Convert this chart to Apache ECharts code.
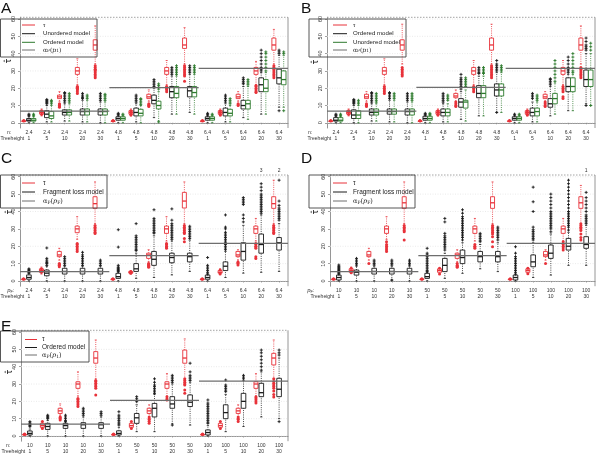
<!DOCTYPE html>
<html><head><meta charset="utf-8">
<script src="https://cdn.jsdelivr.net/npm/echarts@6/dist/echarts.min.js"></script>
<style>html,body{margin:0;padding:0;background:#fff}#c{width:600px;height:456px}</style>
</head><body><div id="c"></div>
<script>
// ---------------- DATA ----------------
const yTicks = [0, 10, 20, 30, 40, 50, 60];
const treeHeights = [1, 5, 10, 20, 30, 1, 5, 10, 20, 30, 1, 5, 10, 20, 30];
const nAB = ['2.4','2.4','2.4','2.4','2.4','4.8','4.8','4.8','4.8','4.8','6.4','6.4','6.4','6.4','6.4'];
const pFC = ['2.4','2.4','2.4','2.4','2.4','4.8','4.8','4.8','4.8','4.8','6.4','6.4','6.4','6.4','6.4'];
const pFD = ['10','10','10','10','10','50','50','50','50','50','100','100','100','100','100'];
const nE  = ['10','10','10','10','10','50','50','50','50','50','100','100','100','100','100'];

// boxes: [whiskerLow, Q1, median, Q3, whiskerHigh]
// ---- Panel A ----
const A_tau = [[0.8,0.9,1,1.1,1.2],[4,5,6,7,8],[12.5,14,15,16,18],[22,28,30,32,37],[34,42,45,48,56],
  [0.8,0.9,1,1.1,1.2],[4,5,6,7,8],[12.5,14,15,16.5,19],[22,28,30,32,36],[34,43,45,49,55],
  [0.8,0.9,1,1.1,1.2],[4,5,6,7,8],[12.5,14,15,16.5,18],[22,28,30,32,35.5],[34,42,45,49,54]];
const A_tauOut = [[1,1.3],[5,7],[9,9.5,10,10.5,11],[17,18,19,19.5,20,20.5,21],[26,27,28,29,30,30.5,31,32,33],
  [1,1.3],[4.5,5,7],[9.5,10,10.5,11],[18,19,19.5,20,20.5,21],[24,27,28,29,30,31,32,33],
  [1,1.3],[4.5,5,7],[10,10.5,11],[17.5,18,19,20,21,21.5],[26,27,28,29,30,31,32,33]];
const A_unord = [[0,1,1.5,2.5,3.5],[0.5,3,5,7,10],[1,4.5,6,7.5,11],[0.5,4.5,6.5,8,13],[0,4.5,6.5,8,12],
  [0,1.5,2.5,3.5,4],[0.5,4,6,8.5,11],[3,11,13,16,20],[5,14.5,18,21,27],[6,15,18.5,21,28],
  [0,1.5,2.5,3.5,4],[0.5,4,6,8.5,11],[3,8,10,13,21],[5,18,22,26,29],[9,22.5,26,31,39]];
const A_unordOut = [[4,4.5,5],[11,11.5,12,12.5,13,13.5],[12,13,14,15,16,17,17.5],[14,14.5,15,16,17],[13,14,15,16,17],
  [4.5,5,5.5],[12,13,14,15,16],[21,22,23,24,25],[28,29,30,31,32],[29,30,31,32,33],
  [4.5,5,5.5],[12,13,14,15,16],[22.5,23,24,25,26],[30,31,32,34,36,38,40,42],[7,40,41,42]];
const A_ord = [[0,1,1.5,2.5,3.5],[0.5,2.5,4,6.5,10],[1,4.5,6,7.5,11],[0.5,4.5,6.5,8,13],[0,4.5,6.5,8,12],
  [0,1.5,2.5,3.5,4],[0,4,5.5,7.8,10],[1,8,10,12.5,18],[5,14.5,17,21,27],[5,15,17.5,21,28],
  [0,1.5,2.5,3.5,4],[0.5,4,5.5,7.8,10],[2,8,11,13,21],[5,18,20,25,29],[9,22,25,30,39]];
const A_ordOut = [[4,4.5,5],[11,12,12.5,13],[12,13,14,15,16,17],[14,15,16],[13,14,15,16,16.5],
  [4.5,5],[10.5,11.5,12.5,13.5,14],[0.5,19.5,20.5,21.5,22.5],[28,29,30,31,32,33],[29,30,31,32,33],
  [4.5,5],[11,12,13,14],[22,23,24,25],[30,32,34,36,38,40,41],[7,40,41]];
const A_alpha = [6.8, 20.3, 31.5];

// ---- Panel B ----
const B_tau = [[0.8,0.9,1,1.1,1.2],[4,5,6,7,8],[12.5,14,15,16.5,18],[22,28,30,32,37],[34,42,45,48,57],
  [0.8,0.9,1,1.1,1.2],[4,5,6,7,8],[12.5,14.5,15.5,17,19],[22,28,30,32,36],[34,42,45,49,57],
  [0.8,0.9,1,1.1,1.2],[4,5,6,7,8],[12.5,14,15,16.5,18],[22,28,30,32,36],[34,42,45,49,56]];
const B_tauOut = [[1,1.3],[5,7],[9.5,10,10.5,11],[17,18,19,20,21],[27,28,29,30,31,32],
  [1,1.3],[4.5,5,7],[9.5,10,11,12],[18,19,20,21],[26,27,28,29,30,31,32,33],
  [1,1.3],[4.5,5,7],[9.5,10,11,12],[14,15,18,19,20,21],[26,27,28,29,30,31,32]];
const B_ordm = [[0,1,1.5,3,3.8],[0,2.5,4.5,7.5,10],[1,4.5,6,8,11],[0.5,5,6.5,8,13],[0,4.5,6.5,8,12],
  [0,1.5,2.5,3.8,4],[0.5,4,6,8,11],[2,9,12,14,18],[4,14.5,17,21.5,27],[6,15.5,19,22.5,29],
  [0,1.5,2.5,3.5,4],[0.5,4,6,8.5,12],[4,9,11,14,21],[7,18,21,26,28],[11,21,25,30.5,40]];
const B_ordmOut = [[4,4.5,5],[11,11.5,12,12.5,13,13.5],[12,13,14,15,16,17,17.5],[14,15,16,17,17.5],[13,14,15,16,17],
  [4.5,5,5.5],[12,13,14,15,16,17],[19.5,21,22,23,24,25,26,28],[28.5,29,30,31,32],[6,30,31,32,33,34,36],
  [4.5,5],[14,15,16,17],[22,23,24,25,25.5],[29,30,31,32,34,36,38],[10,42,43,44,45,47,49]];
const B_unord = [[0,1,1.5,3,3.8],[0,2.5,4.5,7,10],[1,4.5,6,8,11],[0.5,5,6.5,8,13],[0,4.5,6.5,8,12],
  [0,1.5,2.5,3.8,4],[0.5,4,6,8,11],[1,8.5,12,13,19],[4,14.5,17,21.5,27],[6,15.5,19,22.5,29],
  [0,1.5,2.5,3.5,4],[0.5,4,6.5,8.5,12],[5,11,14,17,23],[7,18,21,26,28],[10,21,25,30.5,40]];
const B_unordOut = [[4,4.5,5],[11,12,13],[12,13,14,15,16,17],[14,15,16,17],[13,14,15,16,17],
  [4.5,5,5.5],[13,14,15,16],[21,22,23,24,25,26],[28.5,29,30,31,32],[30,31,32,33],
  [4.5,5],[13,14,15,16],[24,26,28,30,32,34,36],[29,30,32,34,36,38,40],[10,42,44,46]];
const B_alpha = [6.8, 20.5, 31.5];

// ---- Panel C ----
const C_tau = [[0.8,0.9,1,1.1,1.2],[4,5,6,7,8],[12,14,15,17,18.8],[24,27.8,30,31.6,37],[33,41.8,44.5,48.5,57],
  [0.8,0.9,1,1.1,1.2],[4,4.5,5,5.5,6],[11,13,15,16,18],[23,27.4,30,31.6,37],[33,42,46,51,57],
  [0.8,0.9,1,1.1,1.2],[4,4.5,5,6,7],[12,14,15,17,18],[23,27.4,30,31.6,36],[33,41.8,44.5,48.5,58]];
const C_tauOut = [[1,1.3],[5,7],[8.2,9,9.5,10],[16.9,18,19,20,21,21.6],[27.4,28,29,30,31,32],
  [1,1.3],[4.5,5.5],[7.9,8.5,9,9.5,10],[18.8,19.5,20,21,21.6],[22.6,24.5,27.4,28,29,30,31,32],
  [1,1.3],[4,6.3],[9.2,10,10.5,11],[13,14,18.8,19.5,20,21,21.6],[27.4,28,29,30,31,32]];
const C_frag = [[0,1,2,3.5,4.5],[0,3,4.5,6.3,8.5],[0,4,5.5,7.3,8.5],[0,4,5.5,7.3,8.5],[0,4,5.5,7.3,8.5],
  [0,1.5,2.5,4.4,5],[1.5,5.5,7,10,16],[2,9,12.5,17,26],[3.5,10.5,13.5,16,23],[5.5,11,14,16,23.5],
  [0,1,2,3.4,4],[2,6,8.5,11,17],[4.5,12,17,22,32],[5,16,21,27,38],[5.5,17.8,22,25,33]];
const C_fragOut = [[4.5,5,5.5,6,6.5,7],[9,10,10.5,11,12,13,19],[9,10,11,12,13,14],[9,10,11,12,13,14,15,16.5],[9,10,11,12],
  [5.5,6,6.5,7,7.5,8,9,19.5,29.5],[17.5,18,19,20,21,22,23,24,25,26,33],[27.5,28,29,30,31,32,33,34,35,36,41],[24,25,26,27,28,29,30,31,32,33,35,41.5],[24.5,25.5,26.5,27.5,28.5,29.5,30.5,31.5],
  [4,5,6,7,8,9,13.5],[18,19,20,21,22,23,24,25,26,27,28,30,31,38],[34,36,38,44,45,46,47,48],[39,40,41,42,43,44,45,46,47,48,49,50,52,54,56],[35,36,37,38,39,40,41,42,43.5,46,58]];
const C_alpha = [5.4, 14.6, 21.6];
const C_offscale = [[13, '3'], [14, '2']];

// ---- Panel D ----
const D_tau = [[0.8,0.9,1,1.1,1.2],[4.5,5,6,7,8],[12,14,15,17,18.8],[24,27.4,30,31.6,37],[33,41.8,45,48.5,57],
  [0.8,0.9,1,1.1,1.2],[4,5,6,7,7.5],[11,13,15,16,18],[23,27.4,30,31.6,36],[33,41.8,45,48.5,57],
  [0.8,0.9,1,1.1,1.2],[4,5,6,7,7.5],[12,14,15,17,18],[23,27.4,30,31.6,36],[33,41.8,45,48.5,55]];
const D_tauOut = [[1,1.3],[4.8,7.3],[10],[16.9,18,19,20,21,22.6],[23.6,28.3,29,30,31,32],
  [1,1.3],[4,7.3],[7.9,8.5,9,10],[18.8,19.5,20,21],[19.7,22.6,25.5,27,28,29,30,31,32],
  [1,1.3],[4.2,7.3],[10],[17.8,19,20,21,22.6],[23.6,25,27,29,30,31,32,33]];
const D_frag = [[0,0.6,2,3.4,3.5],[0,3.4,5,6.3,8.5],[0,4,5.5,7.3,8.5],[0.5,4,5.5,7.3,8.5],[0,4,5.5,7.3,8.5],
  [0,1.5,2.5,4.4,5],[1.5,5.4,9,13,16],[4.4,10,13.5,17.8,22],[7,11,14,17,21],[5.4,11,14,17,22],
  [0,0.6,2,3.4,3.5],[2,8.2,11,15,22],[3.4,13,16,20.7,27],[9,17.8,20,24.5,28],[9,18.8,21,25.5,32]];
const D_fragOut = [[4,4.5,5,5.5,6,6.5,7,7.5,8,8.5,9.2],[9.2,10,11,12,13],[9.2,10,11,12],[0.5,9.2,10,11,12],[9.2,10,11,12],
  [5.4,6,7,8,9,10,11,12,13,14,15,16,18.8],[17.8,19,20,21,22,23,24,25,26,27.4,34,36],[23.6,25,26,27,28,29,30,31,32,33,34,35,36,37,39,41],[22.6,23.5,24.5,25.5,26.5,27.4],[23.6,25,26,27,28,29,30,31],
  [4,5,6,7,8,9,10,11,12,13,14,16,19.7],[23.6,24.5,25.5,26.5,27.5,28.5,29.5,31,40,45.6,54],[28.3,30,31,32,33,34,35,36,37,38,39,40,42,44,46,48,50],[29.3,31,32,33,34,35,36,37,38,39,40,42,44,46,48,50,52,54,56,58],[33,34,35,36,37,38,40,42,44,46,48,51]];
const D_alpha = [5.4, 14.6, 21.6];
const D_offscale = [[14, '1']];

// ---- Panel E ----
const E_tau = [[0.6,0.7,0.8,1,1.2],[4.4,5,6,7.3,8.3],[12,13,14.5,16,18.5],[23,27.5,30,31.3,37],[33,42,45,48.7,55.4],
  [0.6,0.7,0.8,1,1.2],[4.4,5,6,7.3,8.3],[11,13,14.5,16,18],[23,27.5,30,31.3,36],[33,42,45,49.6,56],
  [0.6,0.7,0.8,1,1.2],[4.4,5,6,7.3,8.3],[11,13,14.5,16,18],[23,27.5,30,31.3,36],[33,41,45,47.7,55.4]];
const E_tauOut = [[0.8,1.1],[4.4,8.3],[9.2,10,10.5,11],[17,18,19,20,21,21.7],[23.7,27.5,28.5,29.5,30.5,31.5,32],
  [0.8,1.1],[4.4,8.3],[7.3,8.5,9.5,10,11],[20.8,21.5,22.7],[24.6,26.5,29.4,30,31,32,33],
  [0.8,1.1],[4.4,8.3],[8.3,9.5,10,11],[19,20,21,22,22.7],[22.5,24,26,27.5,28.5,29.5,30.5,31.5,33]];
const E_ordm = [[0,0.6,1.5,2.9,4],[0,3.8,5.5,7.3,9],[0,4.4,6,7.3,8],[0,4.4,6.5,7.7,11],[0,4.4,6.5,7.7,11],
  [0,0.6,1.5,3,5],[2.5,7.3,10.5,13,18],[2.5,11,16,18.8,24],[7,16,18.5,22.7,30],[6.3,17,19.5,23.7,31],
  [0,0.6,2,3.5,6],[2.5,10,13.5,18,24],[5.5,16,20,24.6,32],[11,22.7,25,30.4,37],[10,22.7,27,33.3,45]];
const E_ordmOut = [[5.4,6,6.5,7,7.5,8.3],[10,10.5,11,11.5,12],[8.3,9,10,11,12],[12,13,14,15,16],[12,13,14],
  [6.3,7,8,9,10,11,12,14],[19.8,20.5,21.5,22.7],[24.6,25.5,26.5,27.5,28.5,29.4,31,33],[6.3,31,32,33,34,35],[32,33,34,35,37,42],
  [7.3,8,9,10,11,12,13,14,15,16,17,18,19,20.8],[25.6,26.5,27.5,28.5,29.4,32.3],[33,34,35],[38,40,42,44,46,48,49.6],[8.3,46.7,48,49.6]];
const E_alpha = [6.9, 20.6, 31.7];

// ---------------- STYLE / LAYOUT ----------------
const FONT = '"Liberation Sans", Arial, sans-serif';
const RED = '#e8323a', BLACK = '#1a1a1a', GREEN = '#2d7a2d', GRAYL = '#6e6e6e', AXC = '#8a8a8a';
const segRanges = [[0, 4], [5, 9], [10, 14]];

const panels = [
  { letter:'A', lx:1, ly:8.5, grid:{left:20, top:17.3, width:268, height:110.7}, xl:nAB, row:'n', rowX:7, titleX:9, titleY:61,
    lh:6.5, margin:1.2,
    tau:A_tau, tauOut:A_tauOut, tauOff:-0.29,
    models:[{box:A_unord, out:A_unordOut, color:BLACK, off:0},{box:A_ord, out:A_ordOut, color:GREEN, off:0.26}],
    alpha:A_alpha, off:null,
    legend:{x:0.5, y:19, w:96.5, h:38, lx1:22, lx2:35, tx:43, fs:6.1, ys:[25,33.7,42.3,50],
      items:[[RED,'τ'],[BLACK,'Unordered model'],[GREEN,'Ordered model'],[GRAYL,'alpha1']]} },
  { letter:'B', lx:301, ly:8.5, grid:{left:327, top:17.3, width:268, height:110.7}, xl:nAB, row:'n', rowX:308, titleX:316, titleY:62,
    lh:6.5, margin:1.2,
    tau:B_tau, tauOut:B_tauOut, tauOff:-0.29,
    models:[{box:B_ordm, out:B_ordmOut, color:BLACK, off:0},{box:B_unord, out:B_unordOut, color:GREEN, off:0.26}],
    alpha:B_alpha, off:null,
    legend:{x:309, y:19, w:97, h:38, lx1:333, lx2:347, tx:353, fs:6.1, ys:[25,33.7,42.3,50],
      items:[[RED,'τ'],[BLACK,'Ordered model'],[GREEN,'Unordered model'],[GRAYL,'alpha1']]} },
  { letter:'C', lx:1, ly:159, grid:{left:20, top:175, width:268, height:111.2}, xl:pFC, row:'pF', rowX:7, titleX:10, titleY:212,
    lh:5.8, margin:1.6,
    tau:C_tau, tauOut:C_tauOut, tauOff:-0.3,
    models:[{box:C_frag, out:C_fragOut, color:BLACK, off:0}],
    alpha:C_alpha, off:C_offscale,
    legend:{x:0.5, y:175, w:106.5, h:33, lx1:22, lx2:35, tx:43, fs:6.5, ys:[183,192,201],
      items:[[RED,'τ'],[BLACK,'Fragment loss model'],[GRAYL,'alphaF']]} },
  { letter:'D', lx:301, ly:159, grid:{left:330, top:175, width:265, height:111.2}, xl:pFD, row:'pF', rowX:307, titleX:316, titleY:212,
    lh:5.8, margin:1.6,
    tau:D_tau, tauOut:D_tauOut, tauOff:-0.3,
    models:[{box:D_frag, out:D_fragOut, color:BLACK, off:0}],
    alpha:D_alpha, off:D_offscale,
    legend:{x:309, y:175, w:106, h:33, lx1:333, lx2:347, tx:353, fs:6.5, ys:[183,192,201],
      items:[[RED,'τ'],[BLACK,'Fragment loss model'],[GRAYL,'alphaF']]} },
  { letter:'E', lx:1, ly:326.5, grid:{left:21, top:330.3, width:267, height:110.9}, xl:nE, row:'n', rowX:6, titleX:10, titleY:372,
    lh:5.8, margin:1.9,
    tau:E_tau, tauOut:E_tauOut, tauOff:-0.3,
    models:[{box:E_ordm, out:E_ordmOut, color:BLACK, off:0}],
    alpha:E_alpha, off:null,
    legend:{x:0.5, y:331, w:88.5, h:31, lx1:25, lx2:37, tx:42, fs:6.5, ys:[339.5,347.5,355],
      items:[[RED,'τ'],[BLACK,'Ordered model'],[GRAYL,'alpha1']]} }
];

// ---------------- BUILD ----------------
const grids = [], xAxes = [], yAxes = [], series = [], graphics = [];

function boxSeries(p, boxes, color, off, w) {
  return {
    type:'custom', xAxisIndex:p, yAxisIndex:p, z:3, silent:true,
    data: boxes.map((b, i) => [i, b[0], b[1], b[2], b[3], b[4]]),
    encode:{x:0, y:[1,2,3,4,5]},
    renderItem: (params, api) => {
      const i = api.value(0);
      const band = api.size([1, 0])[0];
      const x = api.coord([i, 0])[0] + off * band;
      const y = [1,2,3,4,5].map(k => api.coord([i, api.value(k)])[1]);
      const h = w / 2;
      const dash = {stroke:color, lineWidth:0.8, lineDash:[1, 1.2]};
      const solid = {stroke:color, lineWidth:0.8};
      return {type:'group', children:[
        {type:'line', shape:{x1:x, y1:y[0], x2:x, y2:y[1]}, style:dash},
        {type:'line', shape:{x1:x, y1:y[3], x2:x, y2:y[4]}, style:dash},
        {type:'line', shape:{x1:x-h*0.5, y1:y[0], x2:x+h*0.5, y2:y[0]}, style:solid},
        {type:'line', shape:{x1:x-h*0.5, y1:y[4], x2:x+h*0.5, y2:y[4]}, style:solid},
        {type:'rect', shape:{x:x-h, y:y[3], width:w, height:Math.max(y[1]-y[3], 0.6)}, style:{fill:'#ffffff', stroke:color, lineWidth:0.9}},
        {type:'line', shape:{x1:x-h, y1:y[2], x2:x+h, y2:y[2]}, style:{stroke:color, lineWidth:1.3}}
      ]};
    }
  };
}

function outSeries(p, lists, color, off, kind) {
  const data = [];
  lists.forEach((arr, i) => arr.forEach(v => data.push([i, v])));
  return {
    type:'custom', xAxisIndex:p, yAxisIndex:p, z:4, silent:true,
    data, encode:{x:0, y:1},
    renderItem: (params, api) => {
      const i = api.value(0), v = api.value(1);
      const band = api.size([1, 0])[0];
      const c = api.coord([i, v]);
      const x = c[0] + off * band, y = c[1];
      if (kind === 'dot') return {type:'circle', shape:{cx:x, cy:y, r:1.5}, style:{fill:color}};
      const s = 1.5;
      return {type:'group', children:[
        {type:'line', shape:{x1:x-s, y1:y, x2:x+s, y2:y}, style:{stroke:color, lineWidth:0.9}},
        {type:'line', shape:{x1:x, y1:y-s, x2:x, y2:y+s}, style:{stroke:color, lineWidth:0.9}}
      ]};
    }
  };
}

function gridLineSeries(p) {
  return {
    type:'custom', xAxisIndex:p, yAxisIndex:p, z:1, silent:true,
    data: yTicks.map(v => [0, v]), encode:{x:0, y:1},
    renderItem: (params, api) => {
      const cs = params.coordSys;
      const y = api.coord([0, api.value(1)])[1];
      return {type:'line', shape:{x1:cs.x, y1:y, x2:cs.x + cs.width, y2:y}, style:{stroke:'#e4e4e4', lineWidth:0.8, lineDash:[1, 1.5]}};
    }
  };
}

function frameSeries(p) {
  return {
    type:'custom', xAxisIndex:p, yAxisIndex:p, z:2, silent:true,
    data: [[0, 61]], encode:{x:0, y:1},
    renderItem: (params, api) => {
      const cs = params.coordSys;
      const t = api.coord([0, api.value(1)])[1];
      return {type:'group', children:[
        {type:'line', shape:{x1:cs.x, y1:t, x2:cs.x + cs.width, y2:t}, style:{stroke:'#9a9a9a', lineWidth:0.9, lineDash:[1.5, 1.5]}},
        {type:'line', shape:{x1:cs.x + cs.width, y1:cs.y, x2:cs.x + cs.width, y2:cs.y + cs.height}, style:{stroke:AXC, lineWidth:0.9}}
      ]};
    }
  };
}

function alphaSeries(p, alpha) {
  return {
    type:'custom', xAxisIndex:p, yAxisIndex:p, z:5, silent:true,
    data: alpha.map((v, k) => [segRanges[k][0], segRanges[k][1], v]), encode:{x:[0,1], y:2},
    renderItem: (params, api) => {
      const band = api.size([1, 0])[0];
      const v = api.value(2);
      const a = api.coord([api.value(0), v]), b = api.coord([api.value(1), v]);
      return {type:'line', shape:{x1:a[0] - band/2, y1:a[1], x2:b[0] + band/2, y2:b[1]}, style:{stroke:GRAYL, lineWidth:1.3}};
    }
  };
}

function offscaleSeries(p, items) {
  return {
    type:'custom', xAxisIndex:p, yAxisIndex:p, z:5, silent:true, clip:false,
    data: items.map(d => [d[0], 61, d[1]]), encode:{x:0, y:1},
    renderItem: (params, api) => {
      const c = api.coord([api.value(0), 61]);
      return {type:'text', style:{text:String(items[params.dataIndex][1]), x:c[0], y:c[1] - 4.5, align:'center', verticalAlign:'middle', textAlign:'center', textVerticalAlign:'middle', fontSize:5, fontFamily:FONT, fill:'#333'}};
    }
  };
}

function alphaRich(kind, fs) {
  const sub = kind === 'alphaF' ? 'F' : '1';
  return {
    text: '{a|α}{s|P}{a|(}{i|p}{s|' + sub + '}{a|)}',
    rich: {
      a:{fontSize:fs, fontFamily:'"DejaVu Serif", serif', fill:'#222'},
      i:{fontSize:fs, fontFamily:'"DejaVu Serif", serif', fontStyle:'italic', fill:'#222'},
      s:{fontSize:fs*0.7, fontFamily:'"DejaVu Serif", serif', fill:'#222', padding:[fs*0.45, 0, 0, 0]}
    }
  };
}

panels.forEach((P, p) => {
  grids.push(Object.assign({containLabel:false, show:false}, P.grid));
  xAxes.push({
    type:'category', gridIndex:p, boundaryGap:true,
    data: P.xl.map((n, i) => n + '\n' + treeHeights[i]),
    axisLine:{show:true, lineStyle:{color:AXC, width:0.9}},
    axisTick:{show:true, alignWithLabel:true, length:1.5, lineStyle:{color:AXC, width:0.8}},
    axisLabel:{interval:0, fontSize:5, lineHeight:P.lh, margin:P.margin, color:'#333', fontFamily:FONT},
    splitLine:{show:false}
  });
  yAxes.push({
    type:'value', gridIndex:p, min:-3, max:61,
    axisLine:{show:true, lineStyle:{color:AXC, width:0.9}},
    axisTick:{show:true, length:2, customValues:yTicks, lineStyle:{color:AXC, width:0.8}},
    axisLabel:{customValues:yTicks, rotate:90, fontSize:5.5, color:'#333', margin:3.5, fontFamily:FONT},
    splitLine:{show:false}
  });
  series.push(gridLineSeries(p));
  series.push(frameSeries(p));
  series.push(alphaSeries(p, P.alpha));
  series.push(boxSeries(p, P.tau, RED, P.tauOff, 4));
  P.models.forEach(m => series.push(boxSeries(p, m.box, m.color, m.off, 4.6)));
  series.push(outSeries(p, P.tauOut, RED, P.tauOff, 'dot'));
  P.models.forEach(m => series.push(outSeries(p, m.out, m.color, m.off, 'plus')));
  if (P.off) series.push(offscaleSeries(p, P.off));

  graphics.push({type:'text', z:100, silent:true, style:{text:P.letter, x:P.lx, y:P.ly, fontSize:15.5, fontFamily:FONT, fill:'#111', align:'left', verticalAlign:'middle', textAlign:'left', textVerticalAlign:'middle'}});
  graphics.push({type:'text', z:100, silent:true, x:P.titleX, y:P.titleY, rotation:Math.PI/2,
    style:{text:'τ̂', x:0, y:0, fontSize:8, fontFamily:'"DejaVu Sans", sans-serif', fill:'#111', align:'center', verticalAlign:'middle', textAlign:'center', textVerticalAlign:'middle'}});
  const gb = P.grid.top + P.grid.height;
  const r1 = gb + P.margin + P.lh/2, r2 = r1 + P.lh;
  if (P.row === 'n') {
    graphics.push({type:'text', z:100, silent:true, style:{text:'n:', x:P.rowX, y:r1, fontSize:5, fontFamily:FONT, fill:'#333', align:'left', verticalAlign:'middle', textAlign:'left', textVerticalAlign:'middle'}});
  } else {
    graphics.push({type:'text', z:100, silent:true, style:{text:'{i|p}{s|F}{n|:}', x:P.rowX, y:r1, align:'left', verticalAlign:'middle', textAlign:'left', textVerticalAlign:'middle',
      rich:{i:{fontSize:5.5, fontStyle:'italic', fontFamily:'"DejaVu Serif", serif', fill:'#333'}, s:{fontSize:3.8, fontFamily:FONT, fill:'#333', padding:[2,0,0,0]}, n:{fontSize:5, fontFamily:FONT, fill:'#333'}}}});
  }
  graphics.push({type:'text', z:100, silent:true, style:{text:'Treeheight', x:P.grid.left - 19.5, y:r2, fontSize:5, fontFamily:FONT, fill:'#333', align:'left', verticalAlign:'middle', textAlign:'left', textVerticalAlign:'middle'}});

  const L = P.legend;
  graphics.push({type:'rect', z:99, silent:true, shape:{x:L.x, y:L.y, width:L.w, height:L.h}, style:{fill:'none', stroke:'#444', lineWidth:0.9}});
  L.items.forEach((it, k) => {
    graphics.push({type:'line', z:100, silent:true, shape:{x1:L.lx1, y1:L.ys[k], x2:L.lx2, y2:L.ys[k]}, style:{stroke:it[0], lineWidth:1}});
    let st;
    if (it[1] === 'alpha1' || it[1] === 'alphaF') {
      st = alphaRich(it[1], L.fs);
    } else {
      st = {text:it[1], fontSize:L.fs, fontFamily:FONT, fill:'#222'};
    }
    graphics.push({type:'text', z:100, silent:true, style:Object.assign({x:L.tx, y:L.ys[k], align:'left', verticalAlign:'middle', textAlign:'left', textVerticalAlign:'middle'}, st)});
  });
});

const chart = echarts.init(document.getElementById('c'), null, {renderer:'canvas', width:600, height:456, devicePixelRatio:1});
chart.setOption({
  animation:false,
  backgroundColor:'#ffffff',
  grid:grids, xAxis:xAxes, yAxis:yAxes, series, graphic:{elements:graphics}
});
</script></body></html>
